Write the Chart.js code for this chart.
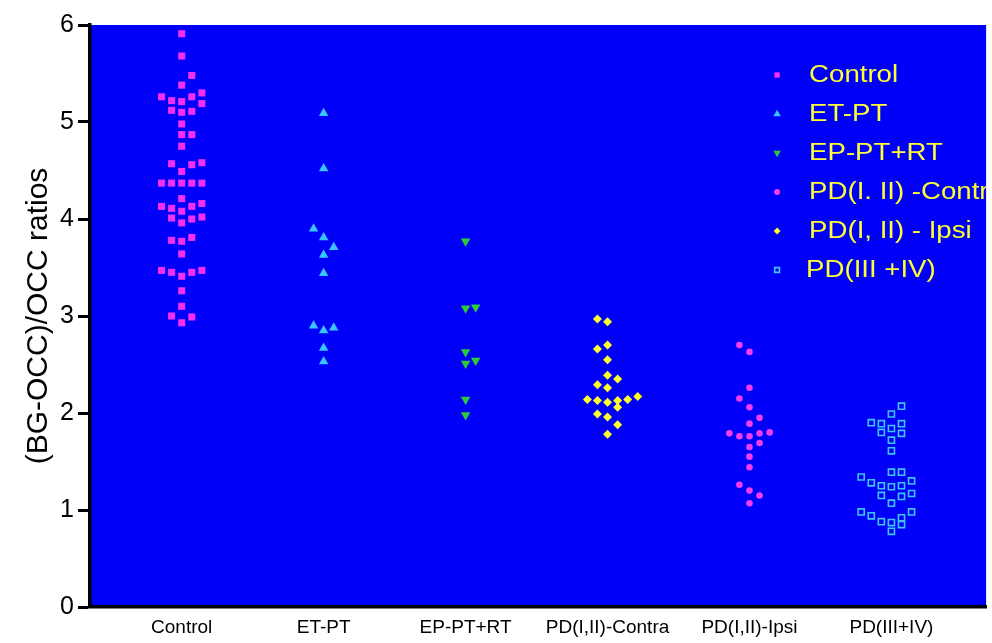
<!DOCTYPE html>
<html>
<head>
<meta charset="utf-8">
<script src="https://cdn.jsdelivr.net/npm/chart.js"></script>
<style>
  html, body { margin: 0; padding: 0; background: #fff; }
  #wrap { width: 992px; height: 643px; }
</style>
</head>
<body>
<div id="wrap"><canvas id="dot"></canvas></div>
<script>
// column labels on the x axis
const categories = ['Control', 'ET-PT', 'EP-PT+RT', 'PD(I,II)-Contra', 'PD(I,II)-Ipsi', 'PD(III+IV)'];
const yTicks = [0, 1, 2, 3, 4, 5, 6];

// values; "slots" are the side-by-side columns of the scatter
const controlValues = [5.91, 5.68, 5.48, 5.38, 5.26, 5.22, 5.21, 5.26, 5.30, 5.19, 5.12, 5.10, 5.11, 4.98, 4.87, 4.87, 4.75,
    4.57, 4.56, 4.58, 4.49, 4.37, 4.37, 4.37, 4.37, 4.37, 4.21, 4.13, 4.11, 4.08, 4.13, 4.16, 4.01, 3.96, 4.00, 4.02,
    3.78, 3.77, 3.81, 3.64, 3.47, 3.45, 3.41, 3.45, 3.47, 3.26, 3.10, 3.00, 2.93, 2.99];
const controlSlots = [0, 0, 1, 0, -2, -1, 0, 1, 2, 2, -1, 0, 1, 0, 0, 1, 0,
    -1, 1, 2, 0, -2, -1, 0, 1, 2, 0, -2, -1, 0, 1, 2, -1, 0, 1, 2,
    -1, 0, 1, 0, -2, -1, 0, 1, 2, 0, 0, -1, 0, 1];

const etptValues = [5.09, 4.52, 3.90, 3.81, 3.71, 3.63, 3.44, 2.90, 2.85, 2.88, 2.67, 2.53];
const etptSlots = [0, 0, -1, 0, 1, 0, 0, -1, 0, 1, 0, 0];

const epptValues = [3.77, 3.08, 3.09, 2.63, 2.51, 2.54, 2.14, 1.98];
const epptSlots = [0, 0, 1, 0, 0, 1, 0, 0];

const contraValues = [2.97, 2.94, 2.66, 2.70, 2.55, 2.39, 2.35, 2.29, 2.26, 2.14, 2.13, 2.11, 2.13, 2.06, 2.14, 2.17,
    1.99, 1.96, 1.88, 1.78];
const contraSlots = [-1, 0, -1, 0, 0, 0, 1, -1, 0, -2, -1, 0, 1, 1, 2, 3, -1, 0, 1, 0];

const ipsiValues = [2.70, 2.63, 2.26, 2.15, 2.06, 1.89, 1.95, 1.79, 1.76, 1.76, 1.79, 1.80, 1.69, 1.65, 1.55, 1.44,
    1.26, 1.20, 1.15, 1.07];
const ipsiSlots = [-1, 0, 0, -1, 0, 0, 1, -2, -1, 0, 1, 2, 1, 0, 0, 0, -1, 0, 1, 0];

const pd34Values = [2.07, 1.99, 1.90, 1.89, 1.84, 1.89, 1.80, 1.79, 1.72, 1.61, 1.39, 1.39, 1.34, 1.28, 1.25, 1.24,
    1.25, 1.30, 1.15, 1.14, 1.17, 1.07, 0.98, 0.94, 0.88, 0.87, 0.92, 0.98, 0.85, 0.78];
const pd34Slots = [1, 0, -2, -1, 0, 1, -1, 1, 0, 0, 0, 1, -3, -2, -1, 0, 1, 2, -1, 1, 2, 0, -3, -2, -1, 0, 1, 2, 1, 0];

const slotWidth = 0.071;

function points(col, values, slots) {
    return values.map((v, i) => ({ x: col + slots[i] * slotWidth, y: v }));
}

// legend order as in the original figure
const datasets = [
    { label: 'Control', data: points(0, controlValues, controlSlots),
      pointStyle: 'rect', radius: 5, backgroundColor: '#f22ef2', borderWidth: 0, legendRadius: 3.8 },
    { label: 'ET-PT', data: points(1, etptValues, etptSlots),
      pointStyle: 'triangle', radius: 5.5, backgroundColor: '#38c4ff', borderWidth: 0, legendRadius: 4.3 },
    { label: 'EP-PT+RT', data: points(2, epptValues, epptSlots),
      pointStyle: 'triangle', rotation: 180, radius: 5.5, backgroundColor: '#2ccb3a', borderWidth: 0, legendRadius: 4.3 },
    { label: 'PD(I. II) -Contra', data: points(4, ipsiValues, ipsiSlots),
      pointStyle: 'circle', radius: 3.3, backgroundColor: '#f23cf0', borderWidth: 0, legendRadius: 3 },
    { label: 'PD(I, II) - Ipsi', data: points(3, contraValues, contraSlots),
      pointStyle: 'rectRot', radius: 4.5, backgroundColor: '#ffff2a', borderWidth: 0, legendRadius: 3.4 },
    { label: 'PD(III +IV)', data: points(5, pd34Values, pd34Slots),
      pointStyle: 'rect', radius: 4.3, backgroundColor: 'rgba(0,0,0,0)', borderColor: '#3fc6f0', borderWidth: 1.6, legendRadius: 3.4 },
];
datasets.forEach(d => { d.pointRadius = d.radius; d.pointHoverRadius = d.radius; d.showLine = false; });

const blueArea = {
    id: 'blueArea',
    beforeDraw(chart) {
        const { ctx, chartArea: a } = chart;
        ctx.save();
        ctx.fillStyle = '#0000f8';
        ctx.fillRect(a.left, a.top, a.right - a.left, a.bottom - a.top);
        ctx.restore();
    }
};

// legend sits inside the plot, top right, and gets clipped by the plot edge
const insideLegend = {
    id: 'insideLegend',
    afterDatasetsDraw(chart) {
        const { ctx, chartArea: a } = chart;
        ctx.save();
        ctx.beginPath();
        ctx.rect(a.left, a.top, a.right - a.left, a.bottom - a.top);
        ctx.clip();
        const markX = a.right - 209;
        const textX = a.right - 177;
        chart.data.datasets.forEach((d, i) => {
            const y = a.top + 50 + i * 39;
            ctx.fillStyle = d.backgroundColor;
            ctx.strokeStyle = d.borderColor || d.backgroundColor;
            ctx.lineWidth = d.borderWidth;
            Chart.helpers.drawPoint(ctx, {
                pointStyle: d.pointStyle, radius: d.legendRadius,
                rotation: d.rotation || 0, borderWidth: d.borderWidth
            }, markX, y);
            ctx.save();
            ctx.translate(textX - (i === 5 ? 3 : 0), y);
            ctx.scale(1.2, 1);
            ctx.fillStyle = '#ffff33';
            ctx.font = '23px "Liberation Sans", Arial, sans-serif';
            ctx.textBaseline = 'middle';
            ctx.fillText(d.label, 0, 1);
            ctx.restore();
        });
        ctx.restore();
    }
};

const dotConfig = {
    type: 'scatter',
    data: { datasets: datasets },
    options: {
        responsive: true,
        maintainAspectRatio: false,
        animation: false,
        layout: { padding: { top: 25, right: 3, left: 0, bottom: 0 } },
        plugins: { legend: { display: false }, tooltip: { enabled: false } },
        scales: {
            x: {
                type: 'linear',
                min: -0.646,
                max: 5.667,
                afterBuildTicks: s => { s.ticks = categories.map((c, i) => ({ value: i })); },
                afterFit: s => { s.height = 36; },
                ticks: {
                    autoSkip: false,
                    maxRotation: 0,
                    padding: 9,
                    color: '#000',
                    font: { family: '"Liberation Sans", Arial, sans-serif', size: 19 },
                    callback: v => categories[v]
                },
                grid: { display: true, drawOnChartArea: false, drawTicks: false },
                border: { color: '#000', width: 3.5 }
            },
            y: {
                min: 0,
                max: 6,
                afterBuildTicks: s => { s.ticks = yTicks.map(v => ({ value: v })); },
                afterFit: s => { s.width = 90; },
                ticks: {
                    padding: 4,
                    color: '#000',
                    font: { family: '"Liberation Sans", Arial, sans-serif', size: 25 }
                },
                grid: { drawOnChartArea: false, tickLength: 12, tickWidth: 3, tickColor: '#000' },
                border: { color: '#000', width: 3.5 }
                ,
                title: {
                    display: true,
                    text: '(BG-OCC)/OCC ratios',
                    color: '#000',
                    padding: { top: 21, bottom: 0 },
                    font: { family: '"Liberation Sans", Arial, sans-serif', size: 30 }
                }
            }
        }
    },
    plugins: [blueArea, insideLegend]
};

const dotCtx = document.getElementById('dot');
window.dotChart = new Chart(dotCtx, dotConfig);
</script>
</body>
</html>
